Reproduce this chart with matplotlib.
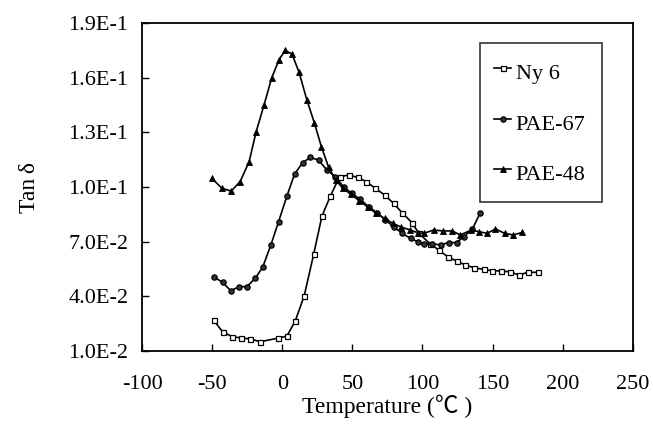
import matplotlib
matplotlib.use("Agg")
import matplotlib.pyplot as plt
from matplotlib.ticker import FixedLocator, FuncFormatter

plt.rcParams['font.family'] = ['Liberation Serif', 'Noto Sans CJK SC', 'DejaVu Sans']

# Ny 6
ny6_t = [-49, -42.6, -35.5, -29.5, -22.9, -15.7, -3.3, 3.3, 9.3, 15.7, 22.4, 28.3,
         34.3, 40.9, 47.4, 53.8, 60, 66.4, 73.1, 79.5, 85.5, 92.6, 97.4, 105.7,
         111.7, 118.1, 124.3, 130.7, 136.7, 143.8, 149.8, 155.7, 162.4, 168.8,
         175.2, 182.4]
ny6_tan = [0.0270, 0.0206, 0.0178, 0.0172, 0.0166, 0.0151, 0.0170, 0.0182, 0.0265,
           0.0404, 0.0630, 0.0840, 0.0950, 0.1057, 0.1066, 0.1053, 0.1029, 0.0993,
           0.0956, 0.0910, 0.0859, 0.0804, 0.0746, 0.0687, 0.0654, 0.0617, 0.0594,
           0.0572, 0.0557, 0.0548, 0.0541, 0.0539, 0.0535, 0.0517, 0.0532, 0.0532]

# PAE-67
pae67_t = [-49, -42.6, -36.7, -30.7, -25.2, -19.3, -14, -8.1, -2.6, 3.3, 8.8, 14.5,
           20, 25.9, 31.9, 37.9, 43.8, 49.8, 55.7, 61.7, 67.6, 73.6, 79.5, 85.5,
           91.5, 96.5, 101, 107, 113, 118.8, 124.3, 129.5, 135.5, 141]
pae67_tan = [0.0508, 0.0477, 0.0431, 0.0453, 0.0453, 0.0499, 0.0559, 0.0682, 0.0810,
             0.0950, 0.1071, 0.1133, 0.1163, 0.1148, 0.1093, 0.1057, 0.1001, 0.0965,
             0.0932, 0.0892, 0.0859, 0.0819, 0.0782, 0.0746, 0.0718, 0.0700, 0.0690,
             0.0686, 0.0684, 0.0695, 0.0695, 0.0728, 0.0768, 0.0855]

# PAE-48
pae48_t = [-50.2, -43, -36.4, -30, -23.6, -18.6, -13, -7.5, -2.2, 2.1, 7, 12, 17.5,
           23, 28, 33, 38, 43, 49, 55, 61, 67, 73, 79, 85, 91, 97, 101, 108, 114.8,
           121.2, 127, 134.8, 140.2, 146.2, 152.1, 158.6, 164.8, 171.2]
pae48_tan = [0.1048, 0.0993, 0.0978, 0.1030, 0.1140, 0.1304, 0.1450, 0.1600, 0.1700,
             0.1750, 0.1730, 0.1630, 0.1480, 0.1350, 0.1220, 0.1110, 0.1040, 0.0995,
             0.0960, 0.0925, 0.0890, 0.0855, 0.0828, 0.0800, 0.0780, 0.0765, 0.0748,
             0.0746, 0.0764, 0.0759, 0.0759, 0.0737, 0.0764, 0.0755, 0.0746, 0.0770,
             0.0746, 0.0737, 0.0751]

x_ticks = [-100, -50, 0, 50, 100, 150, 200, 250]
y_ticks = [0.01, 0.04, 0.07, 0.10, 0.13, 0.16, 0.19]
y_tick_labels = ["1.0E-2", "4.0E-2", "7.0E-2", "1.0E-1", "1.3E-1", "1.6E-1", "1.9E-1"]

fig = plt.figure(figsize=(6.53, 4.32), dpi=100)
ax = fig.add_axes([0.2175, 0.1875, 0.7515, 0.759])

ax.plot(ny6_t, ny6_tan, color='black', lw=1.2, marker='s', ms=3.6,
        mfc='white', mec='black', mew=0.9, label='Ny 6')
ax.plot(pae67_t, pae67_tan, color='black', lw=1.2, marker='o', ms=3.8,
        mfc='#333333', mec='black', mew=0.9, label='PAE-67')
ax.plot(pae48_t, pae48_tan, color='black', lw=1.2, marker='^', ms=4.0,
        mfc='black', mec='black', mew=0.6, label='PAE-48')

ax.set_xlim(-100, 250)
ax.set_ylim(0.01, 0.19)
ax.xaxis.set_major_locator(FixedLocator(x_ticks))
ax.yaxis.set_major_locator(FixedLocator(y_ticks))
ax.yaxis.set_major_formatter(FuncFormatter(
    lambda v, p: y_tick_labels[int(round((v - 0.01) / 0.03))]))
ax.xaxis.set_major_formatter(FuncFormatter(lambda v, p: f"{int(v)}"))

ax.tick_params(direction='in', length=5, width=1.0, labelsize=16, colors='black')
ax.tick_params(axis='x', pad=17)
ax.tick_params(axis='y', pad=10)
for s in ax.spines.values():
    s.set_linewidth(1.3)

ax.set_xlabel("Temperature (\u2103 )", fontsize=17, labelpad=1)
ax.set_ylabel("Tan\u2009\u03b4", fontsize=17, labelpad=20)

leg = ax.legend(loc='upper left', bbox_to_anchor=(0.688, 0.460, 0.249, 0.479),
                mode='expand', fontsize=16, frameon=True, fancybox=False,
                handlelength=0.8, handleheight=1.7, handletextpad=0.2,
                labelspacing=0.92, borderpad=0.63, borderaxespad=0.0,
                markerscale=1.0)
leg.get_frame().set_edgecolor('black')
leg.get_frame().set_linewidth(1.2)

fig.savefig("out.png", dpi=100)
